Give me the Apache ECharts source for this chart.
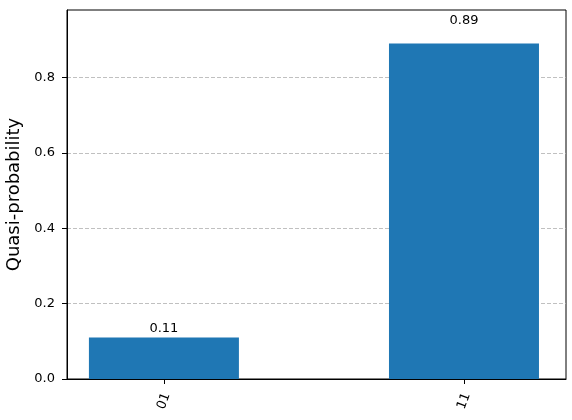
<!DOCTYPE html>
<html>
<head>
<meta charset="utf-8">
<script src="https://cdn.jsdelivr.net/npm/echarts@6/dist/echarts.min.js"></script>
<style>
  html, body { margin: 0; padding: 0; background: #fff; }
  #chart { width: 572px; height: 420px; }
</style>
</head>
<body>
<div id="chart"></div>
<script>
const categories = ['01', '11']
const values = [0.11, 0.89]
const yTicks = [0, 0.2, 0.4, 0.6, 0.8]
const labelGaps = [2, 16]

const font = 'DejaVu Sans'
const chart = echarts.init(document.getElementById('chart'))

const option = {
    animation: false,
    grid: {
        left: 67, right: 6, top: 10, bottom: 41,
        outerBoundsMode: 'none',
        show: true, borderColor: '#000', borderWidth: 1
    },
    xAxis: {
        type: 'value',
        min: -0.323, max: 1.34,
        axisLine: { show: true, onZero: false, lineStyle: { color: '#000', width: 1 } },
        axisTick: { show: true, customValues: [0, 1], length: 5, lineStyle: { color: '#000' } },
        axisLabel: {
            customValues: [0, 1],
            rotate: 70,
            align: 'center',
            verticalAlign: 'middle',
            margin: 22,
            color: '#000',
            fontFamily: font,
            fontSize: 13,
            formatter: v => categories[Math.round(v)]
        },
        splitLine: { show: false }
    },
    yAxis: {
        type: 'value',
        min: 0, max: 0.979,
        name: 'Quasi-probability',
        nameLocation: 'middle',
        nameGap: 40,
        nameTextStyle: { fontFamily: font, fontSize: 18, color: '#000' },
        axisLine: { show: true, onZero: false, lineStyle: { color: '#000', width: 1 } },
        axisTick: { show: true, customValues: yTicks, length: 5, lineStyle: { color: '#000' } },
        axisLabel: {
            customValues: yTicks,
            margin: 12,
            color: '#000',
            fontFamily: font,
            fontSize: 13,
            formatter: v => v.toFixed(1)
        },
        splitLine: {
            show: true,
            lineStyle: { color: '#b0b0b0', type: [4, 2], width: 0.8 }
        }
    },
    series: [{
        type: 'bar',
        barWidth: 150,
        itemStyle: { color: '#1f77b4' },
        data: values.map((v, i) => ({
            value: [i, v],
            label: {
                show: true,
                position: 'top',
                distance: labelGaps[i],
                color: '#000',
                fontFamily: font,
                fontSize: 13,
                formatter: v.toFixed(2)
            }
        }))
    }]
}
chart.setOption(option)
</script>
</body>
</html>
